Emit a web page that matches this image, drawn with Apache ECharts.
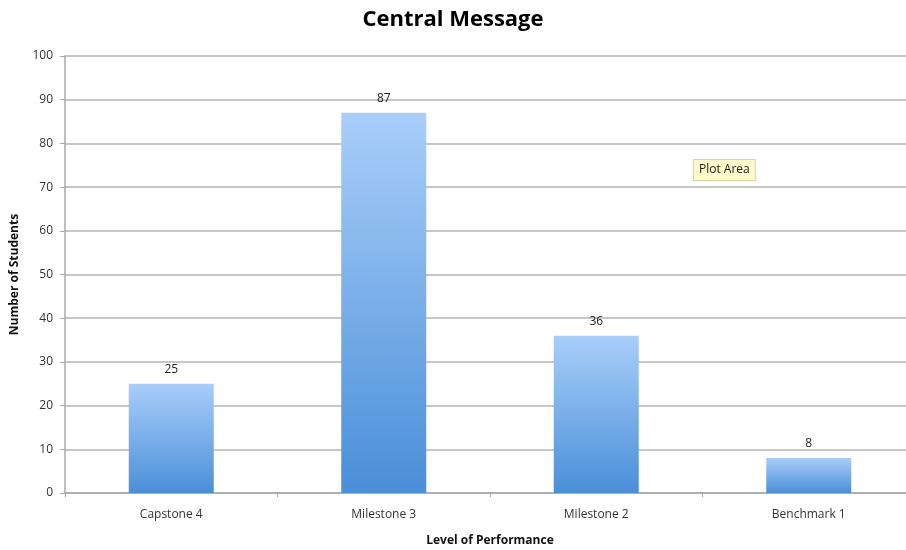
<!DOCTYPE html>
<html>
<head>
<meta charset="utf-8">
<script src="https://cdn.jsdelivr.net/npm/echarts@6/dist/echarts.min.js"></script>
<style>
  html, body { margin: 0; padding: 0; background: #fff; }
  #chart { width: 906px; height: 550px; }
</style>
</head>
<body>
<div id="chart"></div>
<script>
// 数据
const categories = ["Capstone 4", "Milestone 3", "Milestone 2", "Benchmark 1"];
const students = [25, 87, 36, 8];
const yTicks = { min: 0, max: 100, interval: 10 };

const fontName = "'Open Sans', 'Liberation Sans', sans-serif";
const chart = echarts.init(document.getElementById("chart"));

chart.setOption({
  animation: false,
  title: {
    text: "Central Message",
    left: "center",
    top: 4,
    textStyle: { fontFamily: fontName, fontSize: 22, fontWeight: "bold", color: "#000" }
  },
  grid: { left: 65, right: -9, top: 56, bottom: 57, outerBoundsMode: "none", containLabel: false },
  xAxis: {
    type: "category",
    data: categories,
    name: "Level of Performance",
    nameLocation: "middle",
    nameGap: 42,
    nameTextStyle: { fontFamily: fontName, fontSize: 12, fontWeight: "bold", color: "#111" },
    axisLine: { lineStyle: { color: "#a8a8a8", width: 1.5 } },
    axisTick: { show: true, length: 4, alignWithLabel: false, lineStyle: { color: "#a8a8a8" } },
    axisLabel: { margin: 16, fontFamily: fontName, fontSize: 12, color: "#333" }
  },
  yAxis: {
    type: "value",
    min: yTicks.min,
    max: yTicks.max,
    interval: yTicks.interval,
    name: "Number of Students",
    nameLocation: "middle",
    nameGap: 44,
    nameTextStyle: { fontFamily: fontName, fontSize: 12, fontWeight: "bold", color: "#111" },
    axisLine: { show: true, lineStyle: { color: "#a8a8a8", width: 1.5 } },
    axisTick: { show: true, length: 5, lineStyle: { color: "#a8a8a8" } },
    axisLabel: { margin: 12, fontFamily: fontName, fontSize: 12, color: "#333" },
    splitLine: { lineStyle: { color: "#b4b4b4", width: 1.5 } }
  },
  series: [{
    type: "bar",
    data: students,
    barWidth: "40%",
    itemStyle: {
      color: new echarts.graphic.LinearGradient(0, 0, 0, 1, [
        { offset: 0, color: "#a9cefa" },
        { offset: 1, color: "#4a8fd8" }
      ])
    },
    label: {
      show: true,
      position: "top",
      distance: 8,
      fontFamily: fontName,
      fontSize: 12,
      color: "#222"
    }
  }],
  graphic: [{
    type: "text",
    left: 693,
    top: 159,
    style: {
      text: "Plot Area",
      fontFamily: fontName,
      fontSize: 12,
      fill: "#222",
      backgroundColor: "#fffccc",
      borderColor: "#d8d4a0",
      borderWidth: 1,
      padding: [4, 5, 4, 5]
    }
  }]
});
</script>
</body>
</html>
